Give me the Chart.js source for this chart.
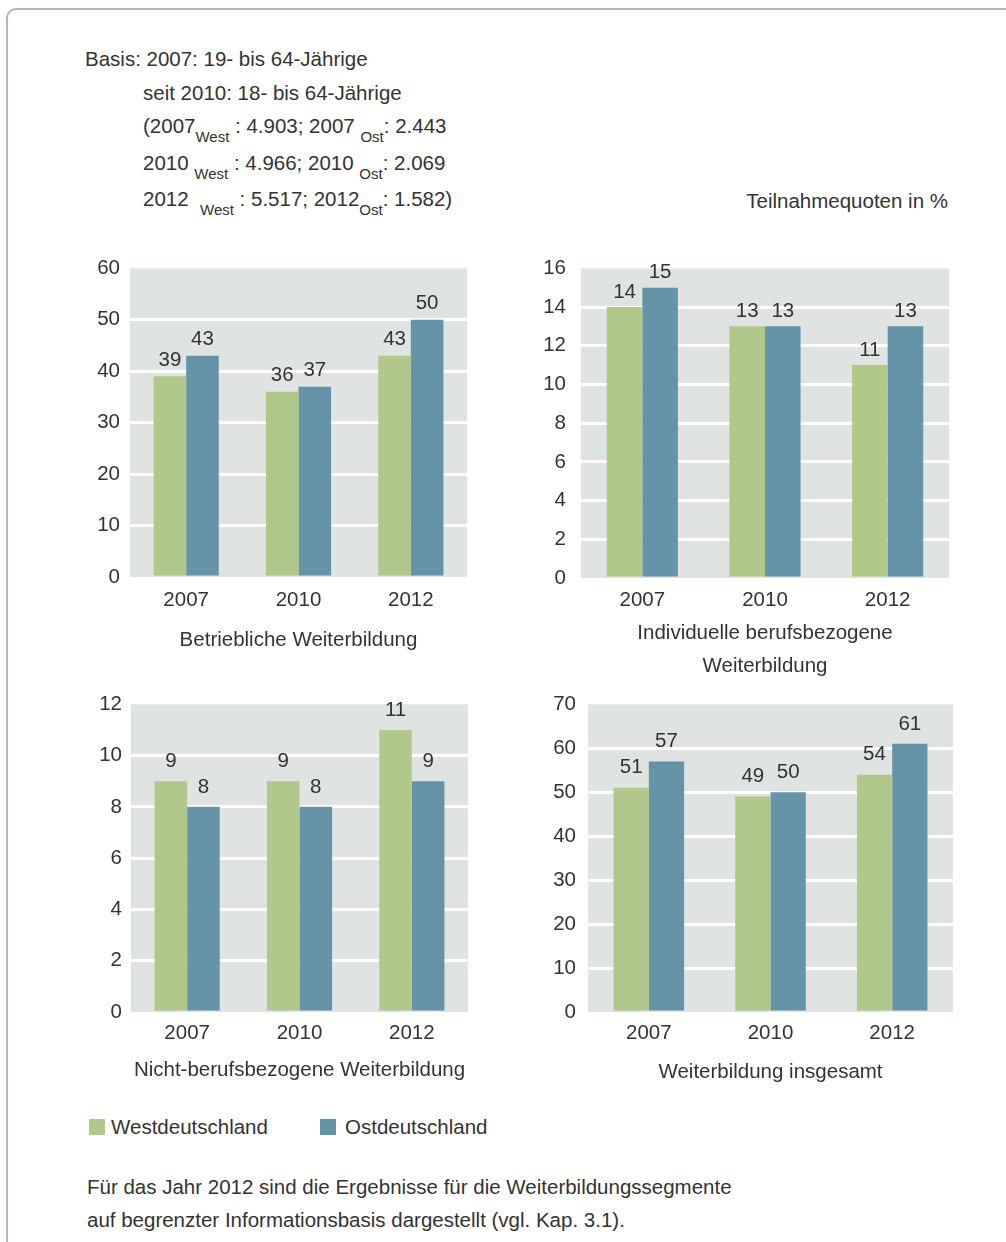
<!DOCTYPE html>
<html>
<head>
<meta charset="utf-8">
<script src="https://cdn.jsdelivr.net/npm/chart.js@4.4.1/dist/chart.umd.min.js"></script>
<style>
html,body{margin:0;padding:0;background:#fff;}
body{width:1006px;height:1242px;position:relative;overflow:hidden;font-family:'Liberation Sans',Arial,sans-serif;color:#333;}
.frame{position:absolute;left:6px;top:8px;width:1100px;height:1400px;border-left:2px solid #a9b9bd;border-top:2px solid #a9b9bd;border-top-left-radius:10px;}
.t{position:absolute;white-space:nowrap;font-size:20.5px;line-height:24px;}
.t sub{font-size:15px;vertical-align:-9px;line-height:0;}
.sq{position:absolute;width:16px;height:16px;}
.wrap{position:absolute;}
.wrap canvas{display:block;}
</style>
</head>
<body>
<div class="frame"></div>

<div class="t" style="left:85px;top:47px;">Basis: 2007: 19- bis 64-Jährige</div>
<div class="t" style="left:143px;top:81px;">seit 2010: 18- bis 64-Jährige</div>
<div class="t" style="left:143px;top:114px;">(2007<sub>West</sub> : 4.903; 2007 <sub>Ost</sub>: 2.443</div>
<div class="t" style="left:143px;top:151px;">2010 <sub>West</sub> : 4.966; 2010 <sub>Ost</sub>: 2.069</div>
<div class="t" style="left:143px;top:187px;">2012 &nbsp;<sub>West</sub> : 5.517; 2012<sub>Ost</sub>: 1.582)</div>
<div class="t" style="right:58px;top:189px;">Teilnahmequoten in %</div>

<div class="wrap" id="w1"></div>
<div class="wrap" id="w2"></div>
<div class="wrap" id="w3"></div>
<div class="wrap" id="w4"></div>

<div class="sq" style="left:89px;top:1119px;background:#b0c98a;"></div>
<div class="t" id="lg1" style="left:111px;top:1115px;"></div>
<div class="sq" style="left:320px;top:1119px;background:#6594a9;"></div>
<div class="t" id="lg2" style="left:345px;top:1115px;"></div>

<div class="t" style="left:87px;top:1175px;">Für das Jahr 2012 sind die Ergebnisse für die Weiterbildungssegmente</div>
<div class="t" style="left:87px;top:1208px;">auf begrenzter Informationsbasis dargestellt (vgl. Kap. 3.1).</div>

<script>
// ---- data ----
const categories = ['2007', '2010', '2012'];
const seriesNames = ['Westdeutschland', 'Ostdeutschland'];
const panelTitles = [
  'Betriebliche Weiterbildung',
  ['Individuelle berufsbezogene', 'Weiterbildung'],
  'Nicht-berufsbezogene Weiterbildung',
  'Weiterbildung insgesamt'
];
const betrieblicheWest = [39, 36, 43];
const betrieblicheOst  = [43, 37, 50];
const individuelleWest = [14, 13, 11];
const individuelleOst  = [15, 13, 13];
const nichtBerufWest   = [9, 9, 11];
const nichtBerufOst    = [8, 8, 9];
const insgesamtWest    = [51, 49, 54];
const insgesamtOst     = [57, 50, 61];
const axisMax  = [60, 16, 12, 70];
const axisStep = [10, 2, 2, 10];

// ---- styling / layout ----
const FONT = "'Liberation Sans', Arial, sans-serif";
const TEXT = '#333333';
const COLORS = ['#b0c98a', '#6594a9'];
const PLOT_BG = '#dfe3e2';
const layouts = [
  {plot:{l:130, r:467, t:268, b:577}, axisH:80,  tickPad:11, yPad:10, labelOff:16},
  {plot:{l:581, r:949, t:268, b:578}, axisH:105, tickPad:10, yPad:15, labelOff:15},
  {plot:{l:131, r:468, t:704, b:1012}, axisH:75, tickPad:9,  yPad:9,  labelOff:20},
  {plot:{l:588, r:953, t:704, b:1012}, axisH:77, tickPad:9,  yPad:12, labelOff:20}
];
const seriesData = [
  [betrieblicheWest, betrieblicheOst],
  [individuelleWest, individuelleOst],
  [nichtBerufWest, nichtBerufOst],
  [insgesamtWest, insgesamtOst]
];

document.getElementById('lg1').textContent = seriesNames[0];
document.getElementById('lg2').textContent = seriesNames[1];

const bgPlugin = {
  id: 'plotBg',
  beforeDraw(chart) {
    const {ctx, chartArea: a} = chart;
    ctx.save();
    ctx.fillStyle = PLOT_BG;
    ctx.fillRect(a.left, a.top, a.right - a.left, a.bottom - a.top);
    ctx.restore();
  }
};
const valuePlugin = {
  id: 'values',
  afterDatasetsDraw(chart, args, opts) {
    const ctx = chart.ctx;
    ctx.save();
    ctx.font = '20.5px ' + FONT;
    ctx.fillStyle = TEXT;
    ctx.textAlign = 'center';
    ctx.textBaseline = 'middle';
    chart.data.datasets.forEach((ds, i) => {
      chart.getDatasetMeta(i).data.forEach((bar, j) => {
        ctx.fillText(String(ds.data[j]), bar.x, bar.y - opts.offset);
      });
    });
    ctx.restore();
  }
};

const PAD_RIGHT = 15, Y_W = 70;

function build(k, topInset) {
  const L = layouts[k], p = L.plot;
  const left = p.l - Y_W, top = p.t - topInset;
  const w = p.r + PAD_RIGHT - left;
  const h = Math.round(topInset + (p.b - p.t) + L.axisH);
  const wrap = document.getElementById('w' + (k + 1));
  wrap.innerHTML = '';
  wrap.style.left = left + 'px';
  wrap.style.top = top + 'px';
  wrap.style.width = w + 'px';
  wrap.style.height = h + 'px';
  const cv = document.createElement('canvas');
  cv.width = w; cv.height = h;
  cv.style.width = w + 'px'; cv.style.height = h + 'px';
  wrap.appendChild(cv);
  const max = axisMax[k];
  return new Chart(cv, {
    type: 'bar',
    data: {
      labels: categories,
      datasets: seriesData[k].map((vals, i) => ({
        label: seriesNames[i],
        data: vals,
        backgroundColor: COLORS[i],
        borderWidth: 0,
        barPercentage: 1,
        categoryPercentage: 0.58
      }))
    },
    options: {
      responsive: false,
      animation: false,
      devicePixelRatio: 1,
      layout: {padding: {top: 0, right: PAD_RIGHT, left: 0, bottom: 0}},
      plugins: {legend: {display: false}, tooltip: {enabled: false}, values: {offset: L.labelOff}},
      scales: {
        x: {
          grid: {display: false, drawTicks: false},
          border: {display: false},
          ticks: {color: TEXT, font: {family: FONT, size: 20.5}, padding: L.tickPad},
          title: {display: true, text: panelTitles[k], color: TEXT,
                  font: {family: FONT, size: 20.5, lineHeight: 1.6}, padding: {top: 0, bottom: 0}},
          afterFit(s) { s.height = L.axisH; }
        },
        y: {
          min: 0, max: max,
          ticks: {stepSize: axisStep[k], color: TEXT, font: {family: FONT, size: 20.5}, padding: L.yPad},
          grid: {
            drawTicks: false, lineWidth: 3,
            color: c => (c.tick && (c.tick.value === 0 || c.tick.value === max)) ? 'rgba(0,0,0,0)' : '#ffffff'
          },
          border: {display: false},
          afterFit(s) { s.width = Y_W; }
        }
      }
    },
    plugins: [bgPlugin, valuePlugin]
  });
}

layouts.forEach((L, k) => {
  let inset = 12.3 + L.yPad;
  let chart = build(k, inset);
  const a = chart.chartArea;
  if (Math.abs(a.top - inset) > 0.3) {
    chart.destroy();
    chart = build(k, a.top);
  }
});
</script>
</body>
</html>
